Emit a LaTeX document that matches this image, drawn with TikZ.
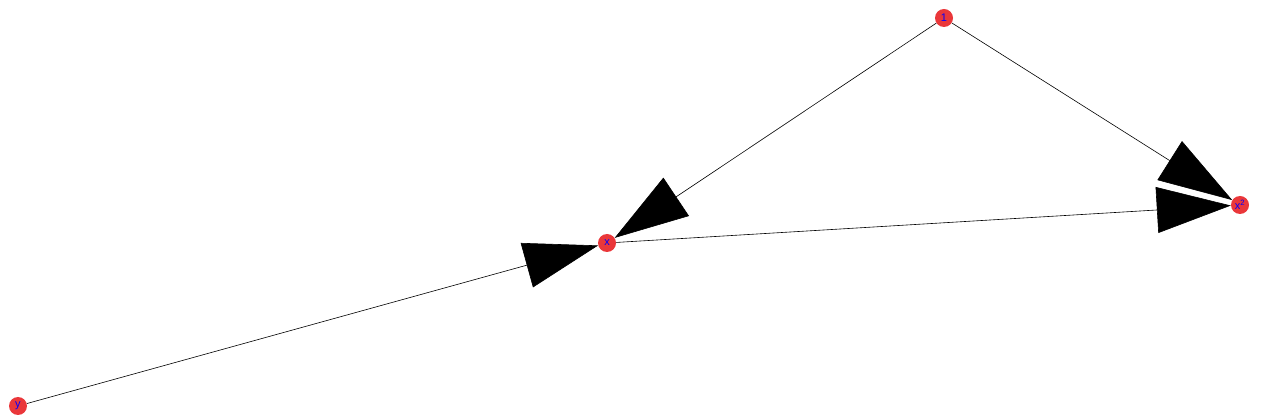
\documentclass[tikz,border=0pt]{standalone}
\usepackage{fontspec}
\setmainfont{Liberation Sans}
\usetikzlibrary{arrows.meta}
\definecolor{vertexred}{RGB}{234,55,58}

\begin{document}
\begin{tikzpicture}[
    x=1pt, y=-1pt,
    vertex/.style={circle, fill=vertexred, draw=none, minimum size=18pt, inner sep=0pt,
        text=blue, font=\fontsize{11}{11}\selectfont},
    edge/.style={draw, line width=0.6pt, -{Triangle[length=74pt, width=46pt]}}
]
% Frame
\useasboundingbox (0,0) rectangle (1270,419);

% Vertices
\node[vertex] (vone) at (944,18) {1};
\node[vertex] (vxsq) at (1240,205) {x\textsuperscript{2}};
\node[vertex] (vx) at (607,243) {x};
\node[vertex] (vy) at (18,406) {y};

% Edges
\draw[edge] (vone) -- (vx);
\draw[edge] (vone) -- (vxsq);
\draw[edge] (vx) -- (vxsq);
\draw[edge] (vy) -- (vx);
\end{tikzpicture}
\end{document}
